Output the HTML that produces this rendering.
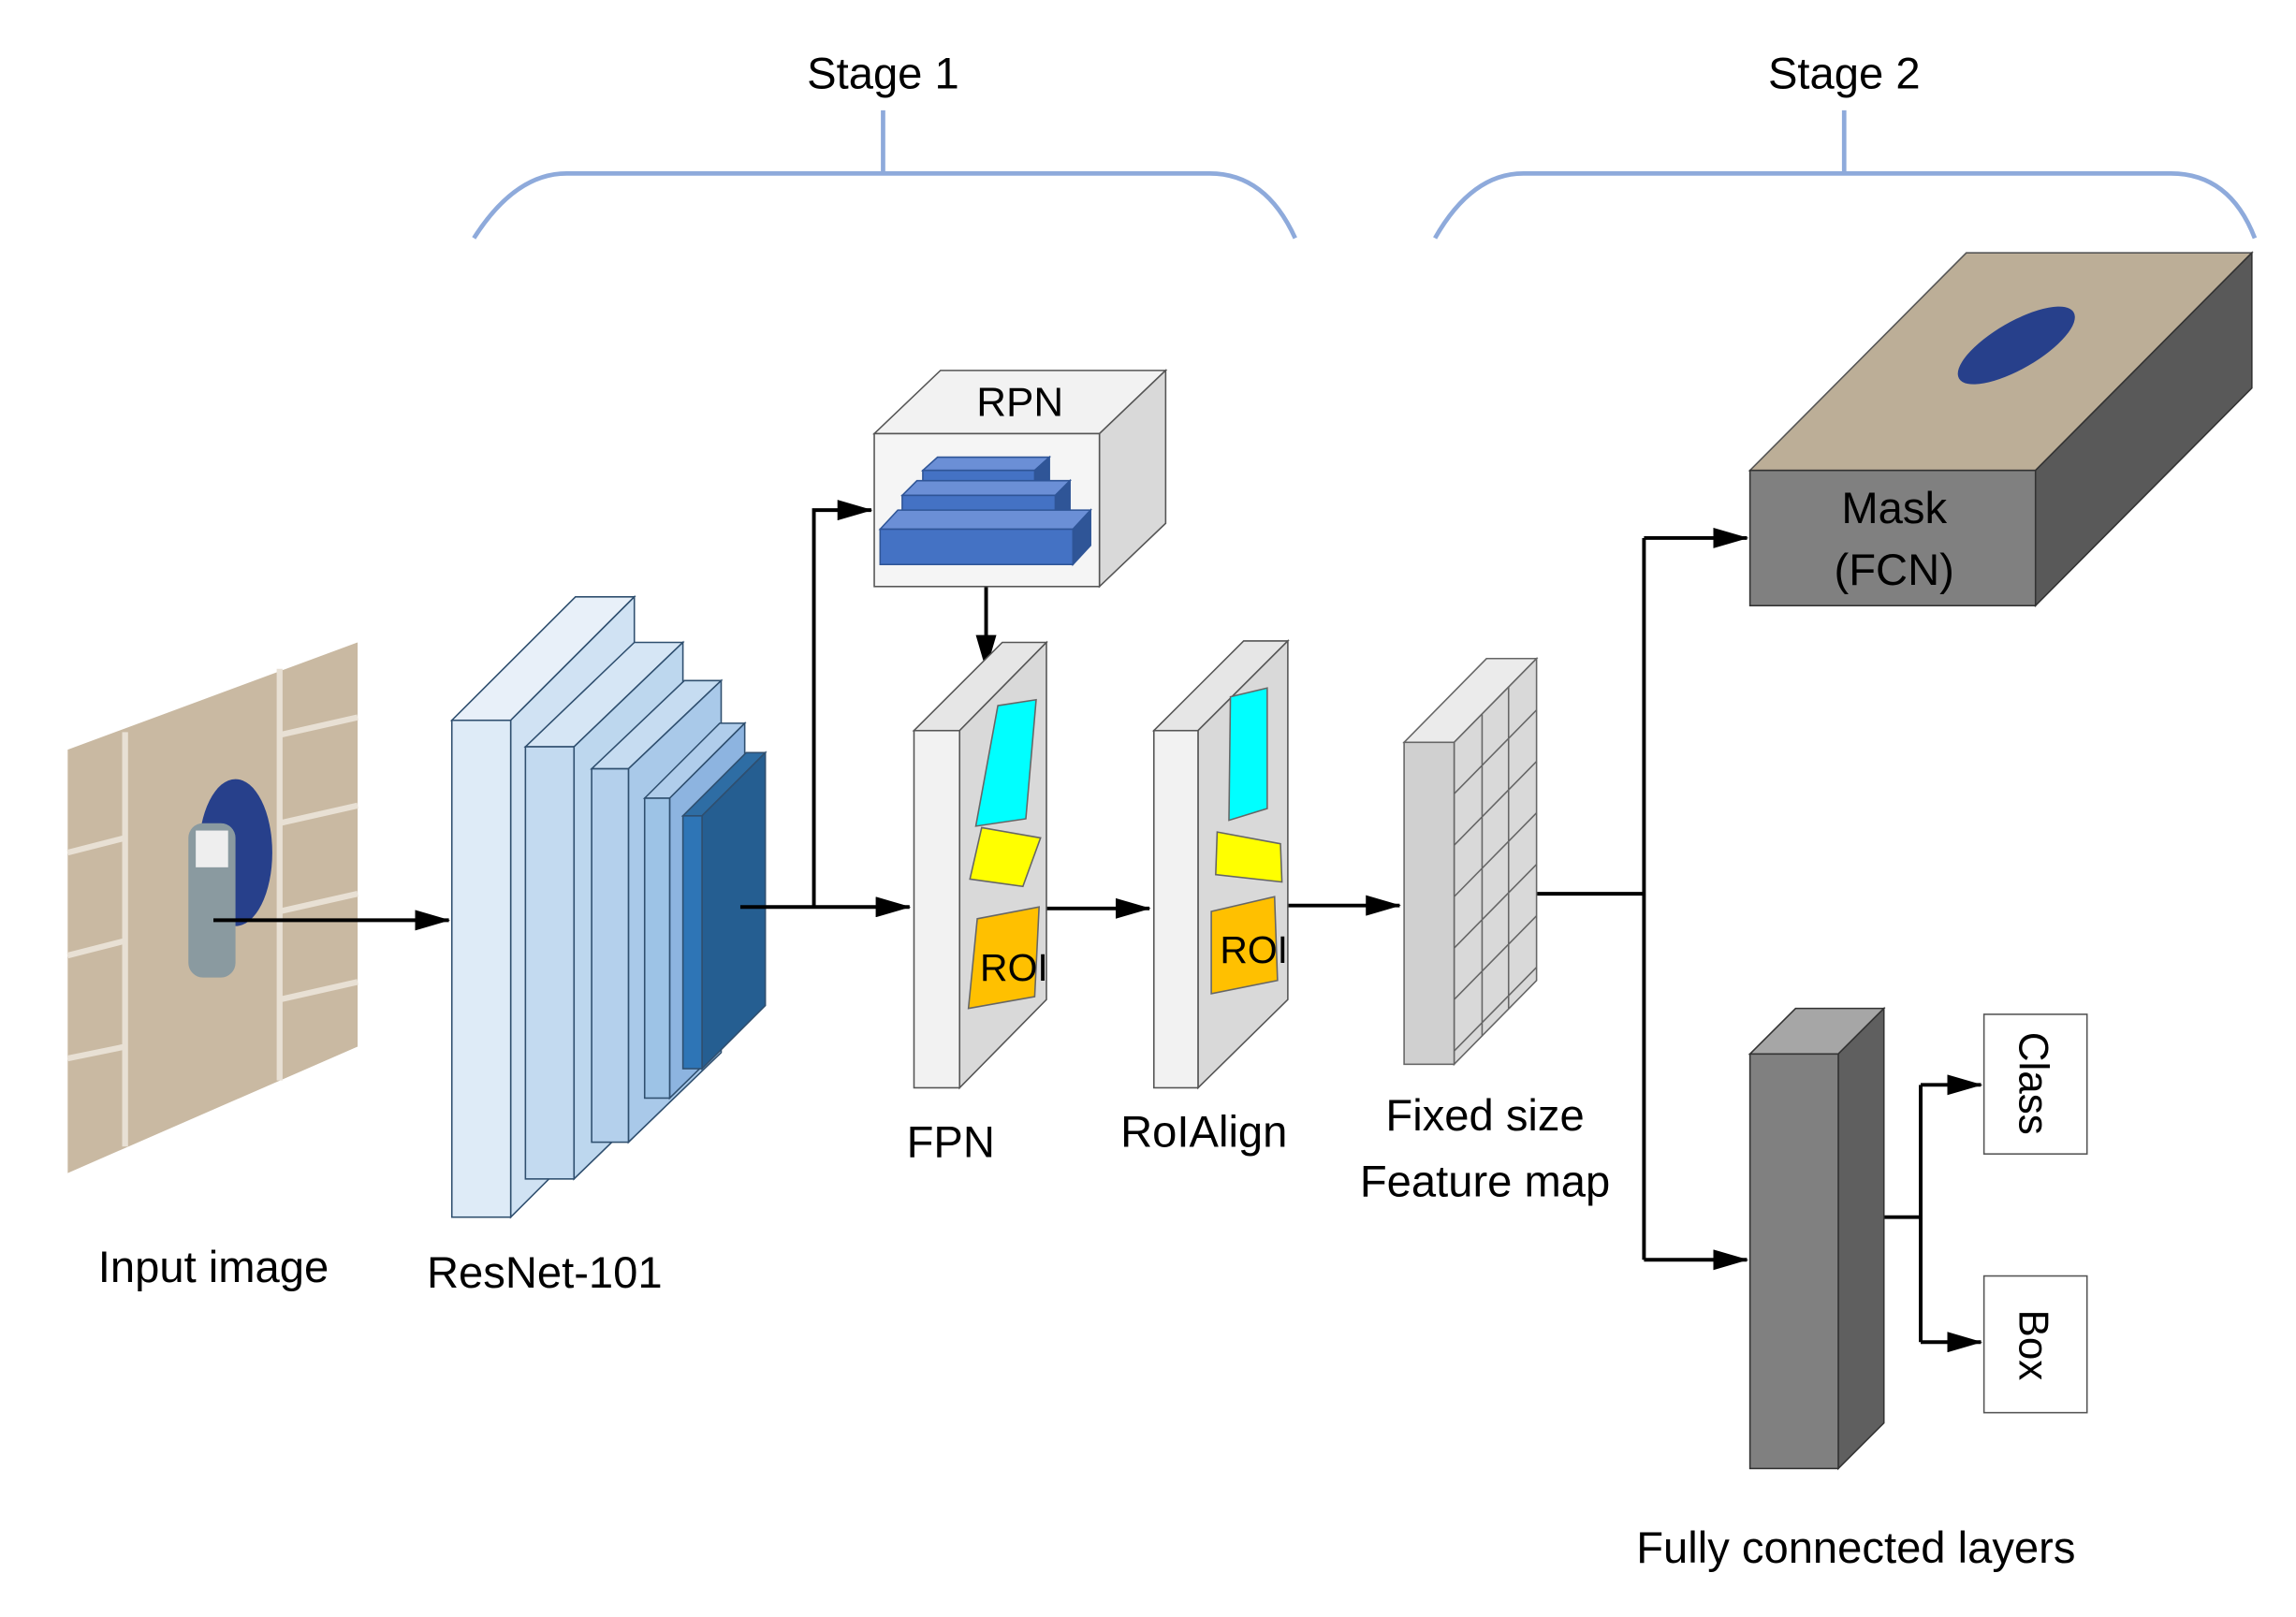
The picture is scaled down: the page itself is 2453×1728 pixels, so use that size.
<!DOCTYPE html>
<html><head><meta charset="utf-8"><style>html,body{margin:0;padding:0;background:#fff}svg{display:block}text{font-family:"Liberation Sans",sans-serif;fill:#000}</style></head>
<body>
<svg width="2453" height="1728" viewBox="0 0 1560 1100" preserveAspectRatio="none" xmlns="http://www.w3.org/2000/svg">
<defs>
<marker id="a" markerWidth="10" markerHeight="10" refX="9" refY="5" orient="auto" markerUnits="userSpaceOnUse"><path d="M0,0 L24,5 L0,10 z" transform="scale(0.42,1)" fill="#000"/></marker>
<marker id="b" markerWidth="24" markerHeight="14" refX="23" refY="7" orient="auto" markerUnits="userSpaceOnUse"><path d="M0,0 L24,7 L0,14 z" fill="#000"/></marker>
</defs>
<rect width="1560" height="1100" fill="#fff"/>
<!-- braces -->
<g fill="none" stroke="#8eaadb" stroke-width="3">
<path d="M600,75 V118 M322,162 Q350,118 385,118 H822 Q860,118 880,162"/>
<path d="M1253,75 V118 M975,162 Q1000,118 1035,118 H1475 Q1515,118 1532,162"/>
</g>
<text x="600" y="60" font-size="30" text-anchor="middle">Stage 1</text>
<text x="1253" y="60" font-size="30" text-anchor="middle">Stage 2</text>
<!-- input image -->
<polygon points="46,510 243,437 243,712 46,798" fill="#c9b9a2"/>
<g stroke="#e8e0d4" stroke-width="4" fill="none">
<path d="M85,498 L85,780 M190,455 L190,735 M46,580 L85,570 M46,650 L85,640 M46,720 L85,712 M190,500 L243,488 M190,560 L243,548 M190,620 L243,608 M190,680 L243,668"/>
</g>
<ellipse cx="160" cy="580" rx="25" ry="50" fill="#27408b"/>
<rect x="128" y="560" width="32" height="105" rx="10" fill="#8a9aa0"/>
<rect x="133" y="565" width="22" height="25" fill="#eee"/>
<!-- resnet blocks -->
<g stroke="#2f4f6f" stroke-width="1">
<polygon points="307,490 391,406 431,406 347,490" fill="#e8f0f9"/><polygon points="347,490 431,406 431,744 347,828" fill="#d0e2f3"/><rect x="307" y="490" width="40" height="338" fill="#deebf7"/>
<polygon points="357,508 431,437 464,437 390,508" fill="#d6e6f5"/><polygon points="390,508 464,437 464,730 390,802" fill="#bdd7ee"/><rect x="357" y="508" width="33" height="294" fill="#c3daf0"/>
<polygon points="402,523 465,463 490,463 427,523" fill="#c6dcf1"/><polygon points="427,523 490,463 490,716 427,777" fill="#a9c9e9"/><rect x="402" y="523" width="25" height="254" fill="#b4d0ec"/>
<polygon points="438,543 489,492 506,492 455,543" fill="#b0cdeb"/><polygon points="455,543 506,492 506,697 455,747" fill="#8db4e0"/><rect x="438" y="543" width="17" height="204" fill="#9dc3e6"/>
<polygon points="464,555 507,512 520,512 477,555" fill="#2e6da4"/><polygon points="477,555 520,512 520,684 477,727" fill="#255e91"/><rect x="464" y="555" width="13" height="172" fill="#2e75b6"/>
</g>
<!-- arrows -->
<g stroke="#000" stroke-width="2.5" fill="none">
<line x1="145" y1="626" x2="305" y2="626" marker-end="url(#b)"/>
<path d="M503,617 H618" marker-end="url(#b)"/>
<path d="M553,617 V347 H592" marker-end="url(#b)"/>
<path d="M670,399 V455" marker-end="url(#b)"/>
<path d="M678,618 H781" marker-end="url(#b)"/>
<path d="M845,616 H951" marker-end="url(#b)"/>
<path d="M1015,608 H1117 M1117,366 V857"/>
<path d="M1117,366 H1187" marker-end="url(#b)"/>
<path d="M1117,857 H1187" marker-end="url(#b)"/>
<path d="M1280,828 H1305 M1305,738 V913"/>
<path d="M1305,738 H1346" marker-end="url(#b)"/>
<path d="M1305,913 H1346" marker-end="url(#b)"/>
</g>
<!-- RPN -->
<g stroke="#555" stroke-width="1">
<polygon points="594,295 639,252 792,252 747,295" fill="#f2f2f2"/>
<polygon points="747,295 792,252 792,356 747,399" fill="#d9d9d9"/>
<rect x="594" y="295" width="153" height="104" fill="#f5f5f5"/>
</g>
<text x="693" y="283" font-size="28" text-anchor="middle">RPN</text>
<g fill="#4472c4" stroke="#2f5597" stroke-width="1">
<polygon points="627,320 637,311 713,311 703,320" fill="#6b8fd6"/><polygon points="703,320 713,311 713,328 703,337" fill="#2f5597"/><rect x="627" y="320" width="76" height="17"/>
<polygon points="613,337 623,327 727,327 717,337" fill="#6b8fd6"/><polygon points="717,337 727,327 727,347 717,358" fill="#2f5597"/><rect x="613" y="337" width="104" height="21"/>
<polygon points="598,360 610,347 741,347 729,360" fill="#6b8fd6"/><polygon points="729,360 741,347 741,371 729,384" fill="#2f5597"/><rect x="598" y="360" width="131" height="24"/>
</g>
<!-- FPN -->
<g stroke="#555" stroke-width="1">
<polygon points="621,497 681,437 711,437 652,497" fill="#e6e6e6"/>
<polygon points="652,497 711,437 711,680 652,740" fill="#d9d9d9"/>
<rect x="621" y="497" width="31" height="243" fill="#f2f2f2"/>
<polygon points="784,497 845,436 875,436 814,497" fill="#e6e6e6"/>
<polygon points="814,497 875,436 875,680 814,740" fill="#d9d9d9"/>
<rect x="784" y="497" width="30" height="243" fill="#f2f2f2"/>
</g>
<g stroke="#666" stroke-width="1">
<polygon points="678,480 704,476 697,557 663,562" fill="#00ffff"/>
<polygon points="667,563 707,570 695,603 659,598" fill="#ffff00"/>
<polygon points="664,625 706,617 703,678 658,686" fill="#ffc000"/>
<polygon points="836,474 861,468 861,550 835,558" fill="#00ffff"/>
<polygon points="827,566 870,574 871,600 826,595" fill="#ffff00"/>
<polygon points="823,620 866,610 868,667 823,676" fill="#ffc000"/>
</g>
<text x="689" y="667" font-size="26" text-anchor="middle">ROI</text>
<text x="852" y="655" font-size="26" text-anchor="middle">ROI</text>
<!-- feature map -->
<g stroke="#666" stroke-width="1" fill="none">
<polygon points="954,505 1010,448 1044,448 988,505" fill="#ebebeb"/>
<polygon points="988,505 1044,448 1044,667 988,724" fill="#d9d9d9"/>
<rect x="954" y="505" width="34" height="219" fill="#d0d0d0"/>
<path d="M1007,486 V705 M1025,467 V686 M988,540 L1044,483 M988,575 L1044,518 M988,610 L1044,553 M988,645 L1044,588 M988,680 L1044,623 M988,715 L1044,658"/>
</g>
<!-- mask -->
<polygon points="1189,320 1336,172 1530,172 1383,320" fill="#bcae97" stroke="#555"/>
<ellipse cx="1370" cy="235" rx="45" ry="16" transform="rotate(-30 1370 235)" fill="#27408b"/>
<polygon points="1383,320 1530,172 1530,264 1383,412" fill="#595959" stroke="#333"/>
<rect x="1189" y="320" width="194" height="92" fill="#808080" stroke="#333"/>
<text x="1287" y="356" font-size="30" text-anchor="middle">Mask</text>
<text x="1287" y="398" font-size="30" text-anchor="middle">(FCN)</text>
<!-- FC -->
<polygon points="1189,717 1220,686 1280,686 1249,717" fill="#a6a6a6" stroke="#333"/>
<polygon points="1249,717 1280,686 1280,968 1249,999" fill="#5f5f5f" stroke="#333"/>
<rect x="1189" y="717" width="60" height="282" fill="#808080" stroke="#333"/>
<rect x="1348" y="690" width="70" height="95" fill="#fff" stroke="#555"/>
<rect x="1348" y="868" width="70" height="93" fill="#fff" stroke="#555"/>
<text transform="translate(1372,737) rotate(90)" font-size="28" text-anchor="middle">Class</text>
<text transform="translate(1372,915) rotate(90)" font-size="28" text-anchor="middle">Box</text>
<!-- labels -->
<g font-size="30" text-anchor="middle">
<text x="145" y="872">Input image</text>
<text x="370" y="876">ResNet-101</text>
<text x="646" y="787">FPN</text>
<text x="818" y="780">RoIAlign</text>
<text x="1009" y="769">Fixed size</text>
<text x="1009" y="814">Feature map</text>
<text x="1261" y="1063">Fully connected layers</text>
</g>
</svg>
</body></html>
